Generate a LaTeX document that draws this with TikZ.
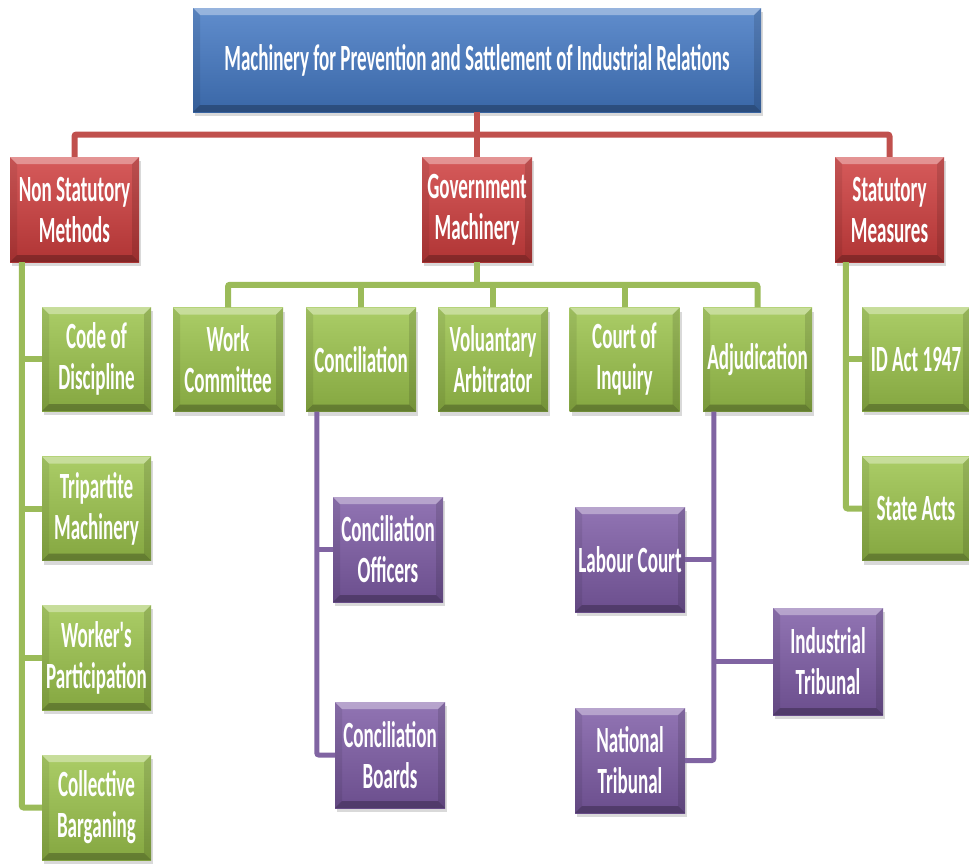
\documentclass[tikz,border=0pt]{standalone}
\usepackage{fontspec}
\newfontfamily\boxfont{Carlito}[FakeStretch=0.515]
\usetikzlibrary{calc,shadows}
\definecolor{irblue}{HTML}{4479C4}
\definecolor{irred}{HTML}{CF3E3E}
\definecolor{irgreen}{HTML}{9CC44C}
\definecolor{irpurple}{HTML}{7E5CA6}
\definecolor{redline}{HTML}{C0504D}
\definecolor{greenline}{HTML}{9BBB59}
\definecolor{purpleline}{HTML}{8064A2}
\tikzset{
  bevel/.style={path picture={
    \fill[white,opacity=.35] (path picture bounding box.north west) -- (path picture bounding box.north east)
      -- ([shift={(-7pt,-7pt)}]path picture bounding box.north east) -- ([shift={(7pt,-7pt)}]path picture bounding box.north west) -- cycle;
    \fill[black,opacity=.25] (path picture bounding box.south west) -- (path picture bounding box.south east)
      -- ([shift={(-7pt,7pt)}]path picture bounding box.south east) -- ([shift={(7pt,7pt)}]path picture bounding box.south west) -- cycle;
    \fill[black,opacity=.08] (path picture bounding box.north west) -- ([shift={(7pt,-7pt)}]path picture bounding box.north west)
      -- ([shift={(7pt,7pt)}]path picture bounding box.south west) -- (path picture bounding box.south west) -- cycle;
    \fill[black,opacity=.12] (path picture bounding box.north east) -- ([shift={(-7pt,-7pt)}]path picture bounding box.north east)
      -- ([shift={(-7pt,7pt)}]path picture bounding box.south east) -- (path picture bounding box.south east) -- cycle;
  }},
  box/.style={draw=none, inner sep=0pt, minimum width=110pt, minimum height=104pt, align=center,
    text=white, font={\boxfont\bfseries\fontsize{37pt}{41pt}\selectfont},
    drop shadow={opacity=.3, shadow xshift=2pt, shadow yshift=-4pt}, bevel},
  bluebox/.style={box, top color=irblue!85!white, bottom color=irblue!85!black},
  redbox/.style={box, top color=irred!85!white, bottom color=irred!85!black},
  greenbox/.style={box, top color=irgreen!85!white, bottom color=irgreen!85!black},
  purplebox/.style={box, top color=irpurple!85!white, bottom color=irpurple!85!black},
  redconn/.style={draw=redline, line width=6pt, rounded corners=2pt},
  greenconn/.style={draw=greenline, line width=6pt, rounded corners=2pt},
  purpleconn/.style={draw=purpleline, line width=5pt, rounded corners=2pt},
}
\begin{document}
\begin{tikzpicture}[x=1pt, y=-1pt]
  \useasboundingbox (0,0) rectangle (969,865);
  % Kopf
  \node[bluebox, minimum width=568pt] (top) at (477,60) {Machinery for Prevention and Sattlement of Industrial Relations};
  % Hauptzweige
  \node[redbox, minimum width=129pt, minimum height=105pt] (ns) at (74.5,209.5) {Non Statutory\\Methods};
  \node[redbox, minimum height=105pt] (gov) at (477,209.5) {Government\\Machinery};
  \node[redbox, minimum width=109pt, minimum height=105pt] (sm) at (889.5,209.5) {Statutory\\Measures};
  % Government Machinery
  \node[greenbox] (wc) at (228,359.5) {Work\\Committee};
  \node[greenbox] (con) at (361,359.5) {Conciliation};
  \node[greenbox] (va) at (493,359.5) {Voluantary\\Arbitrator};
  \node[greenbox] (ci) at (624.5,359.5) {Court of\\Inquiry};
  \node[greenbox, minimum width=109pt] (adj) at (757.5,359.5) {Adjudication};
  % Non Statutory Methods
  \node[greenbox, minimum width=109pt] (cod) at (96.5,359) {Code of\\Discipline};
  \node[greenbox, minimum width=109pt] (tri) at (96.5,508.5) {Tripartite\\Machinery};
  \node[greenbox, minimum width=109pt, minimum height=105pt] (wp) at (96.5,657.5) {Worker's\\Participation};
  \node[greenbox, minimum width=109pt, minimum height=105pt] (cb) at (96.5,807.5) {Collective\\Barganing};
  % Statutory Measures
  \node[greenbox, minimum width=108pt] (id) at (916,359) {ID Act 1947};
  \node[greenbox, minimum width=108pt] (sa) at (916,508.5) {State Acts};
  % Conciliation / Adjudication
  \node[purplebox, minimum height=105pt] (co) at (388,549.5) {Conciliation\\Officers};
  \node[purplebox, minimum height=106pt] (cbd) at (390,755) {Conciliation\\Boards};
  \node[purplebox, minimum height=105pt] (lc) at (630,559.5) {Labour Court};
  \node[purplebox, minimum height=105pt] (nt) at (630,760.5) {National\\Tribunal};
  \node[purplebox, minimum height=107pt] (it) at (828,661.5) {Industrial\\Tribunal};
  % Verbindungen
  \coordinate (rmid) at ($(top.south)!.5!(top.south |- gov.north)$);
  \draw[redconn] (ns.north) |- (rmid) -| (sm.north);
  \draw[redconn] (top.south) -- (gov.north);
  \coordinate (gmid) at ($(gov.south)!.5!(gov.south |- wc.north)$);
  \draw[greenconn] (wc.north) |- (gmid) -| (adj.north);
  \draw[greenconn] (gov.south) -- (gmid);
  \foreach \n in {con,va,ci}
    \draw[greenconn] (\n.north |- gmid) -- (\n.north);
  \coordinate (nsl) at ([xshift=12pt]ns.south west);
  \draw[greenconn] (nsl) |- (cb.west);
  \foreach \n in {cod,tri,wp}
    \draw[greenconn] (nsl |- \n.west) -- (\n.west);
  \coordinate (sml) at ([xshift=11pt]sm.south west);
  \draw[greenconn] (sml) |- (sa.west);
  \draw[greenconn] (sml |- id.west) -- (id.west);
  \coordinate (conl) at ([xshift=11pt]con.south west);
  \draw[purpleconn] (conl) |- (cbd.west);
  \draw[purpleconn] (conl |- co.west) -- (co.west);
  \coordinate (adjl) at ([xshift=11pt]adj.south west);
  \draw[purpleconn] (adjl) |- (nt.east);
  \draw[purpleconn] (adjl |- lc.east) -- (lc.east);
  \draw[purpleconn] (adjl |- it.west) -- (it.west);
\end{tikzpicture}
\end{document}
